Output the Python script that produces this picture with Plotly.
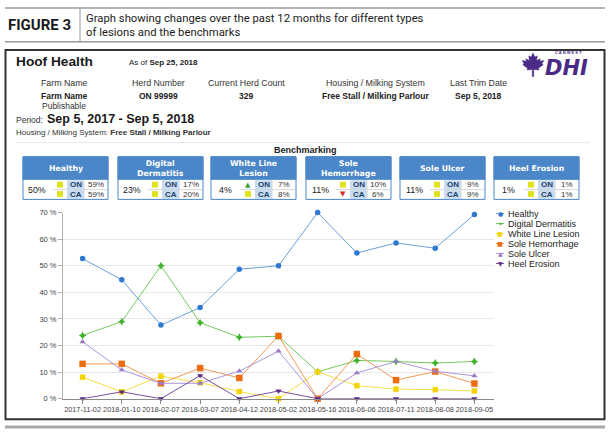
import plotly.graph_objects as go

W, H = 610, 437

# ---------------- data ----------------
dates = ["2017-11-02", "2018-01-10", "2018-02-07", "2018-03-07", "2018-04-12", "2018-05-02",
         "2018-05-16", "2018-06-06", "2018-07-11", "2018-08-08", "2018-09-05"]
healthy = [52.7, 44.7, 27.7, 34.3, 48.7, 50.0, 70.0, 54.8, 58.6, 56.6, 69.3]
digital_dermatitis = [23.8, 29.0, 50.0, 28.6, 23.1, 23.5, 10.1, 14.4, 14.0, 13.4, 14.0]
white_line_lesion = [8.1, 2.6, 8.5, 6.0, 2.7, 0.0, 10.1, 4.9, 3.6, 3.4, 2.9]
sole_hemorrhage = [13.1, 13.1, 5.8, 11.5, 7.8, 23.6, 0.0, 16.8, 7.0, 10.2, 5.7]
sole_ulcer = [21.4, 10.8, 5.8, 5.8, 10.4, 17.9, 0.0, 9.7, 14.0, 10.3, 8.6]
heel_erosion = [0.0, 2.6, 0.0, 8.7, 0.0, 2.9, 0.0, 0.0, 0.0, 0.0, 0.0]

series_names = ["Healthy", "Digital Dermatitis", "White Line Lesion", "Sole Hemorrhage",
                "Sole Ulcer", "Heel Erosion"]
series_values = [healthy, digital_dermatitis, white_line_lesion, sole_hemorrhage,
                 sole_ulcer, heel_erosion]

bench_titles = ["Healthy", "Digital<br>Dermatitis", "White Line<br>Lesion", "Sole<br>Hemorrhage",
                "Sole Ulcer", "Heel Erosion"]
bench_herd = ["50%", "23%", "4%", "11%", "11%", "1%"]
bench_on = ["59%", "17%", "7%", "10%", "9%", "1%"]
bench_ca = ["59%", "20%", "8%", "6%", "9%", "1%"]
bench_on_flag = ["eq", "eq", "up", "eq", "eq", "eq"]
bench_ca_flag = ["eq", "eq", "eq", "down", "eq", "eq"]

# ---------------- styles ----------------
marker_colors = ["#2f78cf", "#3db52a", "#f3d40a", "#ee6c10", "#9a7ac8", "#5e2a84"]
line_colors = ["#6a9fdc", "#74c85e", "#f5de4a", "#f39a55", "#ae95d6", "#7a4fa0"]
symbols = ["circle", "star-diamond", "square", "square", "triangle-up", "triangle-down"]
sizes = [5.5, 6, 5.5, 6.5, 5.5, 5.5]
legend_chars = ["●", "✦", "■", "■", "▲", "▼"]

FONT = "Liberation Sans"


def px(x):
    return x / W


def py(y):
    return 1 - y / H


annotations = []
shapes = []


def text(x, y, s, size=8, color="#222", xanchor="center", family=FONT, yanchor="middle"):
    annotations.append(dict(x=px(x), y=py(y), xref="paper", yref="paper", text=s,
                            showarrow=False, xanchor=xanchor, yanchor=yanchor,
                            font=dict(size=size, color=color, family=family),
                            borderpad=0, borderwidth=0))


def rect(x0, y0, x1, y1, fill="rgba(0,0,0,0)", lc="rgba(0,0,0,0)", lw=0):
    shapes.append(dict(type="rect", xref="paper", yref="paper", x0=px(x0), x1=px(x1),
                       y0=py(y1), y1=py(y0), fillcolor=fill,
                       line=dict(color=lc, width=lw), layer="below"))


def hline(x0, x1, y, color, width=1):
    shapes.append(dict(type="line", xref="paper", yref="paper", x0=px(x0), x1=px(x1),
                       y0=py(y), y1=py(y), line=dict(color=color, width=width)))


def vline(x, y0, y1, color, width=1):
    shapes.append(dict(type="line", xref="paper", yref="paper", x0=px(x), x1=px(x),
                       y0=py(y0), y1=py(y1), line=dict(color=color, width=width)))


# ---------------- figure header ----------------
hline(5, 605, 4, "#9a9a9a", 1.5)
hline(5, 605, 38.5, "#9a9a9a", 1.5)
vline(80, 4, 38.5, "#9a9a9a", 1)
text(8, 21.5, "<b>FIGURE 3</b>", 15, "#1a1a1a", "left", "Roboto")
text(86, 15, "Graph showing changes over the past 12 months for different types", 11.3,
     "#1a1a1a", "left", "Roboto")
text(86, 29, "of lesions and the benchmarks", 11.3, "#1a1a1a", "left", "Roboto")

# main frame
rect(5.5, 47, 604.5, 424, "white", "#333333", 2)
hline(5, 605, 432, "#aaaaaa", 3)

# ---------------- report header ----------------
text(16, 59, "<b>Hoof Health</b>", 13.7, "#1a1a1a", "left")
text(129, 60, "As of <b>Sep 25, 2018</b>", 8, "#222", "left")

cols_x = [64, 158, 246, 375, 478]
labels = ["Farm Name", "Herd Number", "Current Herd Count", "Housing / Milking System",
          "Last Trim Date"]
values = ["<b>Farm Name</b>", "<b>ON 99999</b>", "<b>329</b>",
          "<b>Free Stall / Milking Parlour</b>", "<b>Sep 5, 2018</b>"]
for cx, lab, val in zip(cols_x, labels, values):
    text(cx, 81, lab, 8.8, "#333")
    text(cx, 94, val, 8.5, "#222")
text(64, 104.5, "Publishable", 8.5, "#333")

text(16, 118, "Period:", 8.5, "#333", "left")
text(47, 117, "<b>Sep 5, 2017 - Sep 5, 2018</b>", 12.5, "#1a1a1a", "left")
text(16, 131.5, "Housing / Milking System: <b>Free Stall / Milking Parlour</b>", 8, "#333", "left")
hline(17, 590, 141.5, "#dfe8f1", 1)
text(305, 149, "<b>Benchmarking</b>", 9, "#222")

# logo (approximation of the DHI mark)
leaf = [(0, 1), (0.15, 0.65), (0.35, 0.75), (0.3, 0.35), (0.6, 0.5), (0.55, 0.3), (0.9, 0.35),
        (0.75, 0.1), (0.85, 0.0), (0.45, -0.3), (0.5, -0.45), (0.06, -0.4), (0.06, -1.0),
        (-0.06, -1.0), (-0.06, -0.4), (-0.5, -0.45), (-0.45, -0.3), (-0.85, 0.0),
        (-0.75, 0.1), (-0.9, 0.35), (-0.55, 0.3), (-0.6, 0.5), (-0.3, 0.35), (-0.35, 0.75),
        (-0.15, 0.65)]
lcx, lcy, ls = 533, 62, 12
path = "M " + " L ".join(f"{px(lcx + a * ls):.5f},{py(lcy - b * ls):.5f}" for a, b in leaf) + " Z"
shapes.append(dict(type="path", xref="paper", yref="paper", path=path, fillcolor="#4b2a86",
                   line=dict(color="#4b2a86", width=0.5)))
text(568, 49.5, "<b>C A N W E S T</b>", 4, "#4b2a86")
annotations.append(dict(x=px(566), y=py(65.5), xref="paper", yref="paper",
                        text="<b><i>DHI</i></b>", showarrow=False, xanchor="center",
                        yanchor="middle", borderpad=0,
                        font=dict(size=21, color="#4b2a86", family="DejaVu Sans")))

# ---------------- benchmark boxes ----------------
box_left = [23, 118, 211, 306, 400, 494]
BW = 85
BLUE = "#4a86c8"
for i, bx in enumerate(box_left):
    rect(bx, 156, bx + BW, 199.5, "white", BLUE, 1)
    rect(bx, 156, bx + BW, 179, BLUE, BLUE, 1)
    text(bx + BW / 2, 167.5, "<b>" + bench_titles[i] + "</b>", 7.8, "white", family="DejaVu Sans")
    text(bx + 14, 189.5, bench_herd[i], 8.8, "#222")
    # ON / CA cell
    rect(bx + 44, 180, bx + 61, 199, "#c6dcf2", "rgba(0,0,0,0)", 0)
    hline(bx + 30, bx + 84, 189.5, "#d8d8d8", 1)
    vline(bx + 61, 180, 199, "#d8d8d8", 1)
    text(bx + 52.5, 184.5, "<b>ON</b>", 8, "#1f3f66")
    text(bx + 52.5, 194, "<b>CA</b>", 8, "#1f3f66")
    text(bx + 72.5, 184.5, bench_on[i], 8, "#333")
    text(bx + 72.5, 194, bench_ca[i], 8, "#333")
    for flag, yy in ((bench_on_flag[i], 184.5), (bench_ca_flag[i], 194)):
        if flag == "eq":
            rect(bx + 34, yy - 3, bx + 40, yy + 3, "#dfe41e", "rgba(0,0,0,0)", 0)
        elif flag == "up":
            text(bx + 37, yy, "▲", 7, "#3a9e3a", family="DejaVu Sans")
        else:
            text(bx + 37, yy, "▼", 7, "#d42a2a", family="DejaVu Sans")

# ---------------- manual legend ----------------
for i, name in enumerate(series_names):
    yy = 214 + i * 10.2
    hline(496, 504, yy, line_colors[i], 1)
    text(500, yy, legend_chars[i], 6, marker_colors[i], family="DejaVu Sans")
    text(508, yy, name, 9, "#222", "left")

# ---------------- chart ----------------
fig = go.Figure()
for i, name in enumerate(series_names):
    fig.add_trace(go.Scatter(
        x=dates, y=series_values[i], name=name, mode="lines+markers",
        line=dict(color=line_colors[i], width=1),
        marker=dict(color=marker_colors[i], size=sizes[i], symbol=symbols[i]),
        cliponaxis=False, showlegend=False))

fig.update_layout(
    width=W, height=H, margin=dict(l=0, r=0, t=0, b=0),
    paper_bgcolor="white", plot_bgcolor="white", showlegend=False,
    font=dict(family=FONT, size=8, color="#333"),
    annotations=annotations, shapes=shapes,
    xaxis=dict(type="category", domain=[px(63), px(494)], range=[-0.5, 10.5],
               showline=True, linecolor="#8a8a8a", linewidth=1, ticks="outside",
               ticklen=4, tickcolor="#8a8a8a", showgrid=False, tickangle=0,
               tickfont=dict(size=7.3, color="#444", family=FONT)),
    yaxis=dict(domain=[py(403), py(213)], range=[0, 70], dtick=10, ticksuffix=" %",
               showline=True, linecolor="#b0b0b0", linewidth=1, ticks="outside",
               ticklen=4, tickcolor="#b0b0b0", gridcolor="#e8e8e8", zeroline=False,
               tickfont=dict(size=7.5, color="#444", family=FONT)),
)

fig.write_html("out.html")
